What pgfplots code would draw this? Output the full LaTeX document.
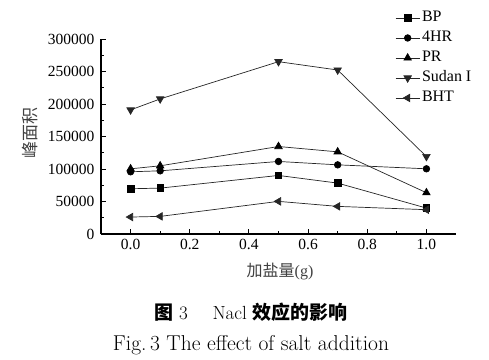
\documentclass[border=0pt]{standalone}
\usepackage{fontspec}
\usepackage{pgfplots}
\pgfplotsset{compat=1.18}
\newfontfamily\axfont{Liberation Serif}
\newfontfamily\cjk{Noto Sans CJK SC}
\begin{document}
\begin{tikzpicture}
\useasboundingbox (0,0) rectangle (489pt,359pt);
\begin{axis}[
  at={(101pt,125pt)}, anchor=south west,
  scale only axis, width=355pt, height=195pt,
  xmin=-0.1, xmax=1.1, ymin=0, ymax=300000,
  axis lines=left, axis line style={-, line width=1.2pt},
  tick align=inside, major tick length=5pt, minor tick length=3pt,
  tick style={line width=0.9pt, black},
  xtick={0,0.2,0.4,0.6,0.8,1.0}, minor x tick num=1,
  ytick={0,50000,100000,150000,200000,250000,300000}, minor y tick num=1,
  scaled y ticks=false,
  xticklabel style={yshift=-2pt, /pgf/number format/.cd, fixed, fixed zerofill, precision=1},
  yticklabel style={xshift=-3pt, /pgf/number format/.cd, fixed, 1000 sep={}},
  /pgf/number format/assume math mode=true,
  ticklabel style={font=\axfont\fontsize{15.5}{18}\selectfont},
  legend style={at={(0.82,1.155)}, anchor=north west, draw=none, fill=none,
    font=\axfont\fontsize{16}{18}\selectfont, row sep=6pt,
    nodes={inner xsep=2pt, inner ysep=0pt, text height=11pt, text depth=3pt}},
  legend cell align=left,
  legend image code/.code={\draw[mark repeat=2,mark phase=2,#1] plot coordinates {(0pt,0pt) (12pt,0pt) (24pt,0pt)};},
  every axis plot/.append style={black!85, line width=0.7pt, mark options={solid, fill=black, draw=black}},
]
\addplot[mark=square*, mark size=3.3pt] coordinates {(0,69600) (0.1,70600) (0.5,90100) (0.7,78300) (1.0,39900)};
\addlegendentry{BP}
\addplot[mark=*, mark size=3.3pt] coordinates {(0,95700) (0.1,97200) (0.5,111600) (0.7,106400) (1.0,100300)};
\addlegendentry{4HR}
\addplot[mark=triangle*, mark size=4.3pt] coordinates {(0,100300) (0.1,104900) (0.5,134600) (0.7,126400) (1.0,63500)};
\addlegendentry{PR}
\addplot[mark=triangle*, mark size=4.3pt, mark options={rotate=180}] coordinates {(0,190900) (0.1,207800) (0.5,265100) (0.7,252300) (1.0,119200)};
\addlegendentry{Sudan I}
\addplot[mark=triangle*, mark size=4.3pt, mark options={rotate=90}] coordinates {(0,26100) (0.1,27100) (0.5,50200) (0.7,42500) (1.0,37400)};
\addlegendentry{BHT}
\end{axis}
\node[rotate=90, text=black!75] at (30pt,226pt) {\cjk\fontsize{17}{19}\selectfont 峰面积};
\node[text=black!75] at (280pt,87pt) {\cjk\fontsize{16}{18}\selectfont 加盐量\axfont(g)};
\node at (251pt,47pt) {\fontsize{19}{21}\selectfont{\cjk\bfseries 图} 3\quad\ Nacl {\cjk\bfseries 效应的影响}};
\node at (251pt,14pt) {\fontsize{21.5}{24}\selectfont Fig.\,3 The effect of salt addition};
\end{tikzpicture}
\end{document}
